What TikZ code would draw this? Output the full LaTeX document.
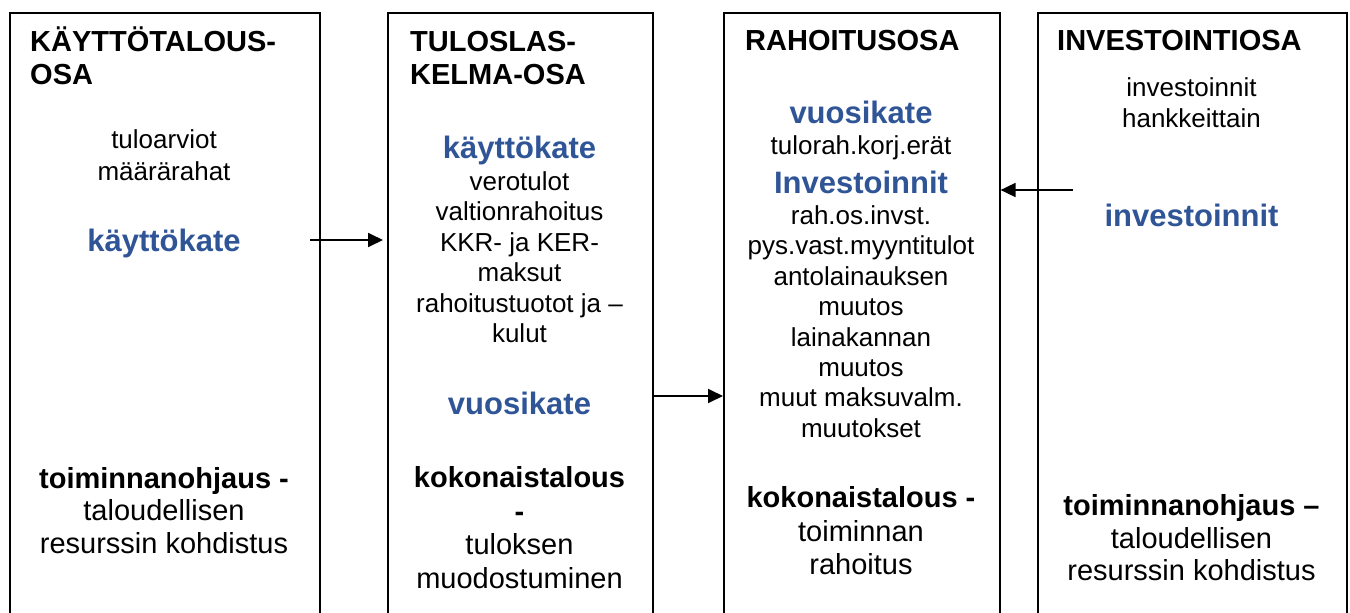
\documentclass[tikz,border=0pt]{standalone}
\usepackage{fontspec}
\setmainfont{Liberation Sans}
\usetikzlibrary{arrows.meta,positioning,calc}
\definecolor{keyblue}{RGB}{47,85,151}

\tikzset{
  panel/.style={draw,line width=1.6pt,anchor=north west,inner sep=0pt,
    minimum width=#1,minimum height=700pt},
  head/.style={anchor=base west,align=left,inner sep=0pt,
    font=\fontsize{29}{33}\selectfont\bfseries},
  item/.style={anchor=base,align=center,inner sep=0pt,
    font=\fontsize{26}{30.4}\selectfont},
  key/.style={anchor=base,inner sep=0pt,text=keyblue,
    font=\fontsize{31}{34}\selectfont\bfseries},
  note/.style={anchor=base,align=center,inner sep=0pt,
    font=\fontsize{29}{33}\selectfont},
  flow/.style={-{Triangle[length=15pt,width=14pt]},line width=1.8pt}
}

\begin{document}
\begin{tikzpicture}[x=1pt,y=-1pt]
\useasboundingbox (0,0) rectangle (1350,613);
\clip (0,0) rectangle (1350,613);
% ===================== the four parts =====================
\node[panel=310pt] (kaytto) at (9,12) {};
\node[panel=265pt] (tulos) at (387,12) {};
\node[panel=276pt] (rahoitus) at (723,12) {};
\node[panel=309pt] (invest) at (1037,12) {};
% multi-line nodes sit on the baseline of their last line
% ===================== KÄYTTÖTALOUSOSA =====================
\node[head] (kayttohead) at (30,84) {KÄYTTÖTALOUS-\\OSA};
\node[item,font=\fontsize{26}{32}\selectfont] (kayttoitem) at (164,180) {tuloarviot\\määrärahat};
\node[key] (kate1) at (164,251) {käyttökate};
\node[note,font=\fontsize{29}{32.5}\selectfont] (kayttonote) at (164,553)
  {\textbf{toiminnanohjaus -}\\taloudellisen\\resurssin kohdistus};
% ===================== TULOSLASKELMAOSA =====================
\node[head] (tuloshead) at (410,84) {TULOSLAS-\\KELMA-OSA};
\node[key] (kate2) at (519.5,158) {käyttökate};
\node[item] (tulositem) at (519.5,342.5)
  {verotulot\\valtionrahoitus\\KKR- ja KER-\\maksut\\rahoitustuotot ja –\\kulut};
\node[key] (vuosi2) at (519.5,414) {vuosikate};
\node[note,font=\fontsize{29}{33.5}\selectfont] (tulosnote) at (519.5,588)
  {\textbf{kokonaistalous}\\\textbf{-}\\tuloksen\\muodostuminen};
% ===================== RAHOITUSOSA =====================
\node[head] (rahhead) at (745,50.5) {RAHOITUSOSA};
\node[key] (vuosi3) at (861,123) {vuosikate};
\node[item] (korj) at (861,154.5) {tulorah.korj.erät};
\node[key] (inv3) at (861,193) {Investoinnit};
\node[item] (rahitem) at (861,437.3)
  {rah.os.invst.\\pys.vast.myyntitulot\\antolainauksen\\muutos\\lainakannan\\muutos\\muut maksuvalm.\\muutokset};
\node[note,font=\fontsize{29}{33.5}\selectfont] (rahnote) at (861,574.5)
  {\textbf{kokonaistalous -}\\toiminnan\\rahoitus};
% ===================== INVESTOINTIOSA =====================
\node[head] (invhead) at (1057,50.5) {INVESTOINTIOSA};
\node[item,font=\fontsize{26}{31}\selectfont] (invitem) at (1191.5,127.5) {investoinnit\\hankkeittain};
\node[key] (inv4) at (1191.5,226) {investoinnit};
\node[note,font=\fontsize{29}{32.5}\selectfont] (invnote) at (1191.5,580.5)
  {\textbf{toiminnanohjaus –}\\taloudellisen\\resurssin kohdistus};
% ===================== arrows =====================
\coordinate (kateout) at (310,240);
\coordinate (vuosiout) at (654,396);
\coordinate (invout) at (1073,190);
\draw[flow,shorten >=4pt] (kateout) -- (kateout -| tulos.west);
\draw[flow] (vuosiout) -- (vuosiout -| rahoitus.west);
\draw[flow] (invout) -- (invout -| rahoitus.east);
\end{tikzpicture}
\end{document}
